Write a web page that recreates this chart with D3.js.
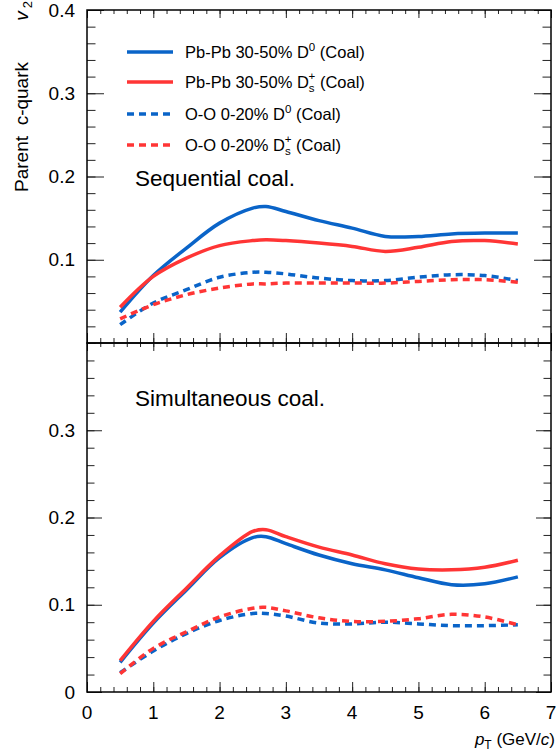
<!DOCTYPE html>
<html>
<head>
<meta charset="utf-8">
<script src="https://cdn.jsdelivr.net/npm/d3@7"></script>
<style>
  body { margin: 0; background: #fff; }
  svg { font-family: "Liberation Sans", Arial, Helvetica, sans-serif; }
</style>
</head>
<body>
<div id="chart"></div>
<script>
// pT points where the curves were read
var pt = [0.5, 1.0, 1.5, 2.0, 2.5, 2.7, 3.0, 3.5, 4.0, 4.5, 5.0, 5.5, 6.0, 6.5];

// Sequential coalescence (top panel)
var seqPbD0  = [0.037, 0.081, 0.114, 0.144, 0.162, 0.164, 0.158, 0.147, 0.138, 0.128, 0.128, 0.131, 0.132, 0.132];
var seqPbDs  = [0.043, 0.080, 0.102, 0.117, 0.123, 0.124, 0.123, 0.120, 0.116, 0.110, 0.115, 0.122, 0.123, 0.119];
var seqOOD0  = [0.022, 0.048, 0.064, 0.079, 0.085, 0.085, 0.083, 0.078, 0.075, 0.075, 0.079, 0.082, 0.081, 0.075];
var seqOODs  = [0.029, 0.046, 0.058, 0.066, 0.071, 0.071, 0.072, 0.072, 0.072, 0.072, 0.074, 0.076, 0.076, 0.073];

// Simultaneous coalescence (bottom panel)
var simPbD0  = [0.034, 0.079, 0.117, 0.154, 0.177, 0.178, 0.170, 0.157, 0.147, 0.140, 0.131, 0.123, 0.124, 0.132];
var simPbDs  = [0.036, 0.081, 0.119, 0.156, 0.184, 0.186, 0.178, 0.166, 0.157, 0.147, 0.141, 0.140, 0.143, 0.151];
var simOOD0  = [0.022, 0.047, 0.067, 0.082, 0.090, 0.090, 0.087, 0.079, 0.078, 0.080, 0.078, 0.076, 0.076, 0.077];
var simOODs  = [0.021, 0.050, 0.069, 0.086, 0.096, 0.097, 0.093, 0.085, 0.081, 0.081, 0.084, 0.089, 0.086, 0.077];

var xTicks = [0, 1, 2, 3, 4, 5, 6, 7];
var topYLabels = [0.1, 0.2, 0.3, 0.4];
var botYLabels = [0, 0.1, 0.2, 0.3];
var panelNames = ["Sequential coal.", "Simultaneous coal."];

var blue = "#0a64c8", red = "#ff3535";

var W = 556, H = 755;
var left = 87, right = 551;

var svg = d3.select("#chart").append("svg")
  .attr("width", W)
  .attr("height", H);

var x = d3.scaleLinear().domain([0, 7]).range([left, right]);
var yTop = d3.scaleLinear().domain([0, 0.4]).range([343, 10]);
var yBot = d3.scaleLinear().domain([0, 0.4]).range([692, 343]);

var minorX = d3.range(0, 7.001, 0.2);
var minorY = d3.range(0, 0.4001, 0.02);
var fmt = function(d){ return +d.toFixed(1); };

var drawAxes = function(y, labels, majLen){
  var y0 = y.range()[0], y1 = y.range()[1];

  // left, labelled
  var gl = svg.append("g").attr("transform", "translate(" + left + ",0)");
  gl.call(d3.axisLeft(y).tickValues(labels).tickFormat(fmt)
    .tickSizeInner(-majLen).tickSizeOuter(0).tickPadding(12));
  gl.append("g").call(d3.axisLeft(y).tickValues(minorY).tickFormat("")
    .tickSizeInner(-majLen / 2).tickSizeOuter(0));

  // right, mirrored
  var gr = svg.append("g").attr("transform", "translate(" + right + ",0)");
  gr.call(d3.axisRight(y).ticks(4).tickFormat("").tickSizeInner(-majLen).tickSizeOuter(0));
  gr.append("g").call(d3.axisRight(y).tickValues(minorY).tickFormat("")
    .tickSizeInner(-majLen / 2).tickSizeOuter(0));

  // bottom + top ticks
  var gb = svg.append("g").attr("transform", "translate(0," + y0 + ")");
  gb.call(d3.axisBottom(x).tickValues(xTicks).tickFormat("").tickSizeInner(-10).tickSizeOuter(0));
  gb.append("g").call(d3.axisBottom(x).tickValues(minorX).tickFormat("").tickSizeInner(-5).tickSizeOuter(0));

  var gt = svg.append("g").attr("transform", "translate(0," + y1 + ")");
  gt.call(d3.axisTop(x).tickValues(xTicks).tickFormat("").tickSizeInner(-8).tickSizeOuter(0));
  gt.append("g").call(d3.axisTop(x).tickValues(minorX).tickFormat("").tickSizeInner(-4).tickSizeOuter(0));

  svg.selectAll(".domain").remove();
  svg.selectAll(".tick line").attr("stroke", "#222").attr("stroke-width", 1);
  svg.selectAll(".tick text").attr("font-size", 19).attr("fill", "#000")
    .attr("font-family", "Liberation Sans, Arial, sans-serif");

  // frame
  svg.append("rect")
    .attr("x", left).attr("y", y1)
    .attr("width", right - left).attr("height", y0 - y1)
    .attr("fill", "none").attr("stroke", "#000").attr("stroke-width", 1.5);
};

var drawCurves = function(y, series){
  var line = d3.line()
    .x(function(d, i){ return x(pt[i]); })
    .y(function(d){ return y(d); })
    .curve(d3.curveCatmullRom.alpha(0.5));

  series.forEach(function(s){
    svg.append("path")
      .datum(s.v)
      .attr("d", line)
      .attr("fill", "none")
      .attr("stroke", s.color)
      .attr("stroke-width", 3.5)
      .attr("stroke-dasharray", s.dash ? "7,5" : null);
  });
};

drawCurves(yTop, [
  {v: seqPbD0, color: blue, dash: false},
  {v: seqPbDs, color: red, dash: false},
  {v: seqOOD0, color: blue, dash: true},
  {v: seqOODs, color: red, dash: true}
]);
drawCurves(yBot, [
  {v: simPbD0, color: blue, dash: false},
  {v: simPbDs, color: red, dash: false},
  {v: simOOD0, color: blue, dash: true},
  {v: simOODs, color: red, dash: true}
]);

drawAxes(yTop, topYLabels, 17);
drawAxes(yBot, botYLabels, 15);

// x axis labels under bottom panel
svg.append("g").selectAll("text")
  .data(xTicks)
  .enter().append("text")
  .attr("x", function(d){ return x(d); })
  .attr("y", 719)
  .attr("text-anchor", "middle")
  .attr("font-size", 19)
  .text(function(d){ return d; });

// legend
var legend = [
  {sys: "Pb-Pb 30-50% ", ds: false, color: blue, dash: false},
  {sys: "Pb-Pb 30-50% ", ds: true, color: red, dash: false},
  {sys: "O-O 0-20% ", ds: false, color: blue, dash: true},
  {sys: "O-O 0-20% ", ds: true, color: red, dash: true}
];
var legY = [52, 82, 114, 145];

var lg = svg.selectAll(".legend")
  .data(legend)
  .enter().append("g")
  .attr("class", "legend")
  .attr("transform", function(d, i){ return "translate(0," + legY[i] + ")"; });

lg.append("line")
  .attr("x1", 127).attr("x2", 173)
  .attr("stroke", function(d){ return d.color; })
  .attr("stroke-width", 3.5)
  .attr("stroke-dasharray", function(d){ return d.dash ? "7,5" : null; });

var lt = lg.append("text")
  .attr("x", 185)
  .attr("y", 6)
  .attr("font-size", 16.5);
lt.append("tspan").text(function(d){ return d.sys + "D"; });
lt.each(function(d){
  var t = d3.select(this);
  if (d.ds) {
    t.append("tspan").attr("font-size", 11.5).attr("dy", 4).text("s");
    t.append("tspan").attr("font-size", 11.5).attr("dx", -6).attr("dy", -12).text("+");
    t.append("tspan").attr("dy", 8).text(" (Coal)");
  } else {
    t.append("tspan").attr("font-size", 11.5).attr("dy", -7).text("0");
    t.append("tspan").attr("dy", 7).text(" (Coal)");
  }
});

// panel labels
svg.append("text").attr("x", 135).attr("y", 186).attr("font-size", 22.5).text(panelNames[0]);
svg.append("text").attr("x", 135).attr("y", 406).attr("font-size", 22.5).text(panelNames[1]);

// x title
var xt = svg.append("text")
  .attr("x", 555).attr("y", 745)
  .attr("text-anchor", "end")
  .attr("font-size", 17);
xt.append("tspan").attr("font-style", "italic").text("p");
xt.append("tspan").attr("font-size", 12).attr("dy", 4).text("T");
xt.append("tspan").attr("dy", -4).text(" (GeV/");
xt.append("tspan").attr("font-style", "italic").text("c");
xt.append("tspan").text(")");

// y title, pieces placed along the rotated axis
var ytg = svg.append("g").attr("transform", "translate(28,0) rotate(-90)")
  .attr("font-size", 19);
ytg.append("text").attr("x", -192).text("Parent");
ytg.append("text").attr("x", -62).attr("text-anchor", "end").text("c-quark");
var v2 = ytg.append("text").attr("x", -1).attr("text-anchor", "end");
v2.append("tspan").attr("font-style", "italic").text("v");
v2.append("tspan").attr("font-size", 13).attr("dx", 3).attr("dy", 4).text("2");
</script>
</body>
</html>
